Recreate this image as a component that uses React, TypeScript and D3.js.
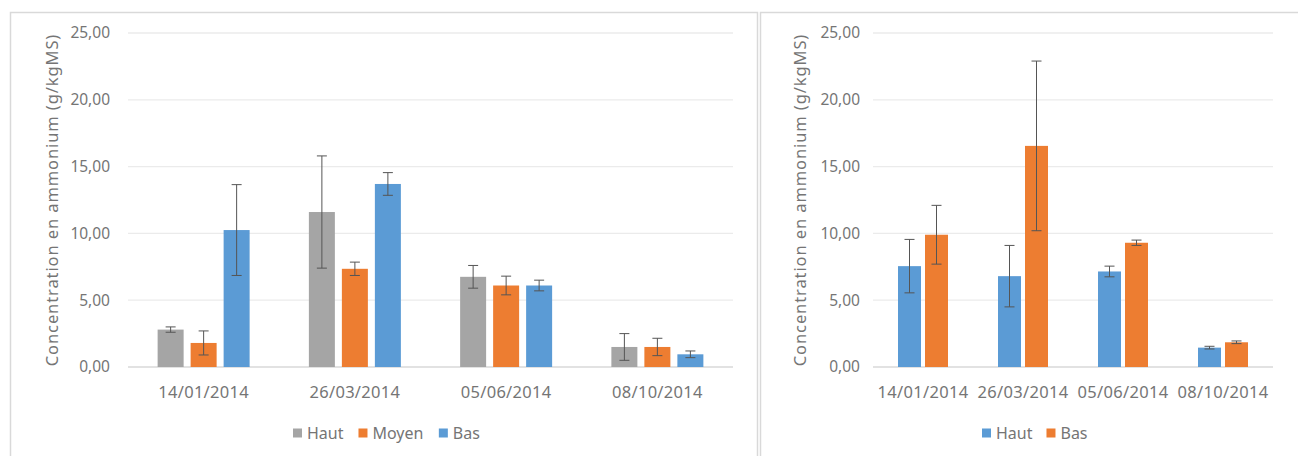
import React from "react";
import * as d3 from "d3";

const categories = ["14/01/2014", "26/03/2014", "05/06/2014", "08/10/2014"];
const yTicks = [0, 5, 10, 15, 20, 25];

// Left chart
const leftSeries = ["Haut", "Moyen", "Bas"];
const leftHaut = [2.8, 11.6, 6.75, 1.5];
const leftHautErr = [0.2, 4.2, 0.85, 1.0];
const leftMoyen = [1.8, 7.35, 6.1, 1.5];
const leftMoyenErr = [0.9, 0.5, 0.7, 0.65];
const leftBas = [10.25, 13.7, 6.1, 0.95];
const leftBasErr = [3.4, 0.85, 0.4, 0.25];
const leftColors = ["#a5a5a5", "#ed7d31", "#5b9bd5"];

// Right chart
const rightSeries = ["Haut", "Bas"];
const rightHaut = [7.55, 6.8, 7.15, 1.45];
const rightHautErr = [2.0, 2.3, 0.4, 0.1];
const rightBas = [9.9, 16.55, 9.3, 1.85];
const rightBasErr = [2.2, 6.35, 0.2, 0.1];
const rightColors = ["#5b9bd5", "#ed7d31"];

const yTitle = "Concentration en ammonium (g/kgMS)";
const FONT = "'Noto Sans', 'Open Sans', sans-serif";
const TEXT = "#757575";

const fr = d3.formatLocale({ decimal: ",", thousands: " ", grouping: [3], currency: ["", "€"] });
const fmt = fr.format(".2f");

const emWidth: Record<string, number> = { Haut: 2.28, Moyen: 3.21, Bas: 1.72 };

type Panel = {
  x0: number; x1: number; y0: number; y1: number;
  plotLeft: number; plotRight: number;
  barW: number; gap: number;
  series: string[]; values: number[][]; errs: number[][]; colors: string[];
  tickX: number; titleX: number;
  legendX: number; legendGap: number;
};

function Chart({ p }: { p: Panel }) {
  const y = d3.scaleLinear().domain([0, 25]).range([367, 33]);
  const x = d3.scaleBand<string>().domain(categories).range([p.plotLeft, p.plotRight]).padding(0);
  const n = p.series.length;
  const groupW = n * p.barW + (n - 1) * p.gap;
  const inner = d3.scaleBand<string>().domain(p.series).range([0, groupW]).paddingInner(p.gap / (p.barW + p.gap));
  const bw = inner.bandwidth();
  const titleY = (y(0) + y(25)) / 2;
  const LF = 16;
  let acc = 0;
  const offs = p.series.map((s) => {
    const o = acc;
    acc += 14 + emWidth[s] * LF + p.legendGap;
    return o;
  });
  return (
    <g>
      <rect x={p.x0 + 0.5} y={p.y0 + 0.5} width={p.x1 - p.x0} height={p.y1 - p.y0} fill="#fff" stroke="#d9d9d9" strokeWidth={1.5} />
      {yTicks.map((t) => (
        <g key={t}>
          <line x1={p.plotLeft} x2={p.plotRight} y1={y(t)} y2={y(t)} stroke={t === 0 ? "#d9d9d9" : "#ebebeb"} strokeWidth={1.3} />
          <text x={p.tickX} y={y(t)} dy="0.35em" textAnchor="end" fontSize={15.5} fontFamily={FONT} fill={TEXT}>{fmt(t)}</text>
        </g>
      ))}
      <text transform={`translate(${p.titleX},${titleY}) rotate(-90)`} textAnchor="middle" dy="0.35em" fontSize={16.5} letterSpacing={0.9} fontFamily={FONT} fill={TEXT}>{yTitle}</text>
      {categories.map((c, ci) => {
        const gx = (x(c) as number) + x.bandwidth() / 2 - groupW / 2;
        return (
          <g key={c}>
            {p.series.map((s, si) => {
              const v = p.values[si][ci];
              const e = p.errs[si][ci];
              const bx = gx + (inner(s) as number);
              const cx = bx + bw / 2;
              return (
                <g key={s}>
                  <rect x={bx} y={y(v)} width={bw} height={y(0) - y(v)} fill={p.colors[si]} />
                  <line x1={cx} x2={cx} y1={y(v + e)} y2={y(Math.max(0, v - e))} stroke="#555" strokeWidth={1} />
                  <line x1={cx - 5} x2={cx + 5} y1={y(v + e)} y2={y(v + e)} stroke="#555" strokeWidth={1} />
                  <line x1={cx - 5} x2={cx + 5} y1={y(Math.max(0, v - e))} y2={y(Math.max(0, v - e))} stroke="#555" strokeWidth={1} />
                </g>
              );
            })}
            <text x={(x(c) as number) + x.bandwidth() / 2} y={392} dy="0.35em" textAnchor="middle" fontSize={16.5} letterSpacing={0.3} fontFamily={FONT} fill={TEXT}>{c}</text>
          </g>
        );
      })}
      {p.series.map((s, i) => (
        <g key={s} transform={`translate(${p.legendX + offs[i]},433)`}>
          <rect x={0} y={-4.5} width={9} height={9} fill={p.colors[i]} />
          <text x={14} y={0} dy="0.35em" fontSize={LF} fontFamily={FONT} fill={TEXT}>{s}</text>
        </g>
      ))}
    </g>
  );
}

const leftPanel: Panel = {
  x0: 10, x1: 757, y0: 12, y1: 470,
  plotLeft: 128, plotRight: 733,
  barW: 26, gap: 7,
  series: leftSeries, values: [leftHaut, leftMoyen, leftBas], errs: [leftHautErr, leftMoyenErr, leftBasErr], colors: leftColors,
  tickX: 110, titleX: 52, legendX: 293, legendGap: 15,
};

const rightPanel: Panel = {
  x0: 760, x1: 1310, y0: 12, y1: 470,
  plotLeft: 873, plotRight: 1273,
  barW: 23, gap: 4,
  series: rightSeries, values: [rightHaut, rightBas], errs: [rightHautErr, rightBasErr], colors: rightColors,
  tickX: 860, titleX: 800, legendX: 982, legendGap: 14,
};

export default function App() {
  return (
    <div style={{ position: "fixed", left: 0, top: 0 }}>
      <svg width={1298} height={456} style={{ display: "block", background: "#fff" }}>
        <Chart p={leftPanel} />
        <Chart p={rightPanel} />
      </svg>
    </div>
  );
}
